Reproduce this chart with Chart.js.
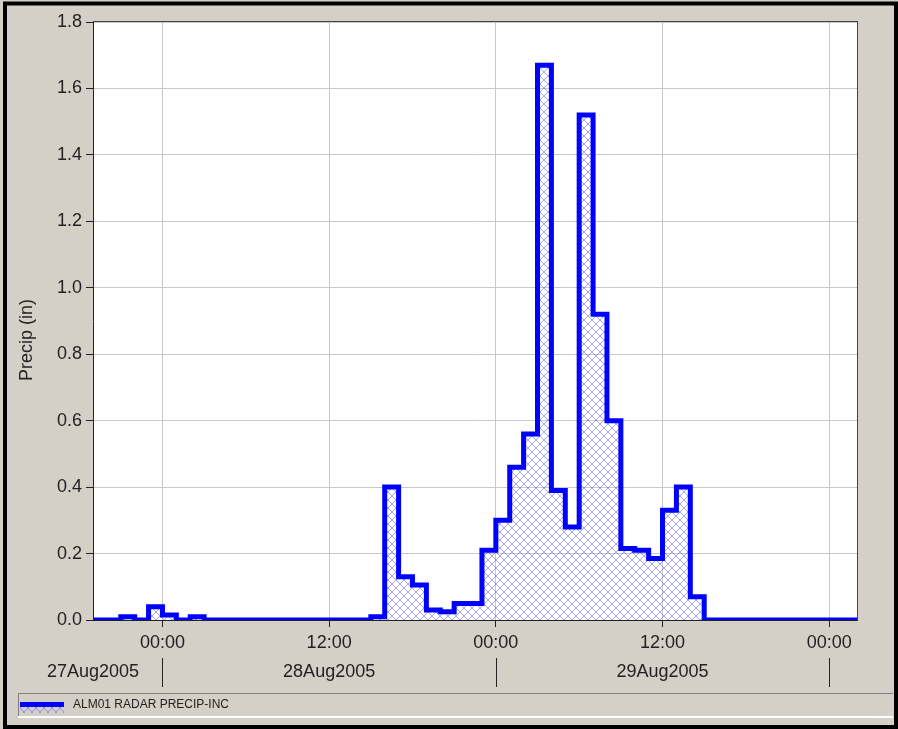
<!DOCTYPE html>
<html lang="en">
<head>
<meta charset="UTF-8">
<title>ALM01 Radar Precip</title>
<script src="https://cdn.jsdelivr.net/npm/chart.js@4.4.0/dist/chart.umd.min.js"></script>
<style>
  html, body { margin: 0; padding: 0; background: #d4d0c8; }
  canvas { display: block; }
</style>
</head>
<body>
<canvas id="precipChart" width="898" height="729"></canvas>
<script>
// hour ending, counted from 28Aug2005 00:00 (each value covers the hour before it)
var hours = [-5, -4, -3, -2, -1, 0, 1, 2, 3, 4, 5, 6, 7, 8, 9, 10, 11, 12, 13, 14, 15,
             16, 17, 18, 19, 20, 21, 22, 23, 24, 25, 26, 27, 28, 29, 30, 31, 32, 33, 34, 35,
             36, 37, 38, 39, 40, 41, 42, 43, 44, 45, 46, 47, 48, 49, 50];
var precip = [0, 0, 0, 0.01, 0, 0.04, 0.015, 0, 0.01, 0, 0, 0, 0, 0, 0, 0, 0, 0, 0, 0, 0,
              0.01, 0.40, 0.13, 0.105, 0.03, 0.025, 0.05, 0.05, 0.21, 0.30, 0.46, 0.56, 1.67, 0.39, 0.28, 1.52,
              0.92, 0.60, 0.215, 0.21, 0.185, 0.33, 0.40, 0.07, 0, 0, 0, 0, 0, 0, 0, 0, 0, 0, 0];

var hourTicks = [0, 12, 24, 36, 48];
var hourLabels = ['00:00', '12:00', '00:00', '12:00', '00:00'];
var dayLabels = ['27Aug2005', '28Aug2005', '29Aug2005'];
var dayLabelAt = [-5, 12, 36];
var dayBreaks = [0, 24, 48];
var seriesName = 'ALM01 RADAR PRECIP-INC';

var FONT = 'Liberation Sans';
var TEXT = '#222';

var canvas = document.getElementById('precipChart');
var ctx = canvas.getContext('2d');

// cross hatch fill like the original
function makeHatch() {
  var c = document.createElement('canvas');
  c.width = 8; c.height = 8;
  var g = c.getContext('2d');
  g.strokeStyle = 'rgba(80,80,255,0.5)';
  g.lineWidth = 1;
  g.beginPath();
  g.moveTo(0, 0); g.lineTo(8, 8);
  g.moveTo(8, 0); g.lineTo(0, 8);
  g.stroke();
  return ctx.createPattern(c, 'repeat');
}
var hatch = makeHatch();

var framePlugin = {
  id: 'frame',
  beforeDraw: function (chart) {
    var c = chart.ctx, a = chart.chartArea;
    c.save();
    c.fillStyle = '#d4d0c8';
    c.fillRect(0, 0, chart.width, chart.height);
    c.fillStyle = '#ffffff';
    c.fillRect(a.left, a.top, a.right - a.left, a.bottom - a.top);
    c.restore();
  },
  afterDraw: function (chart) {
    var c = chart.ctx, a = chart.chartArea, xs = chart.scales.x;
    c.save();
    // top and right edges of the plot
    c.fillStyle = '#444';
    c.fillRect(a.left, a.top - 1, a.right - a.left + 1, 1);
    c.fillRect(a.right, a.top - 1, 1, a.bottom - a.top + 1);

    // second row: dates and day separators
    c.fillStyle = TEXT;
    dayBreaks.forEach(function (d) {
      c.fillRect(Math.round(xs.getPixelForValue(d)), 658, 1, 29);
    });
    c.font = '18px "' + FONT + '"';
    c.textAlign = 'center';
    c.textBaseline = 'middle';
    dayLabels.forEach(function (t, i) {
      c.fillText(t, xs.getPixelForValue(dayLabelAt[i]), 672);
    });

    // y axis title
    c.save();
    c.translate(27, 340);
    c.rotate(-Math.PI / 2);
    c.fillText('Precip (in)', 0, 0);
    c.restore();

    // legend box
    c.fillStyle = '#808080';
    c.fillRect(18, 693, 875, 1);
    c.fillRect(18, 693, 1, 24);
    c.fillStyle = '#ffffff';
    c.fillRect(18, 716, 875, 2);
    c.fillStyle = '#0000ff';
    c.fillRect(20, 702, 44, 5);
    c.fillStyle = hatch;
    c.fillRect(20, 707, 44, 6);
    c.fillStyle = TEXT;
    c.font = '12px "' + FONT + '"';
    c.textAlign = 'left';
    c.fillText(seriesName, 73, 705);

    // black outer frame
    c.strokeStyle = '#000';
    c.lineWidth = 4;
    c.strokeRect(5, 3.5, 891, 723.5);
    c.restore();
  }
};

var chart = new Chart(ctx, {
  type: 'line',
  data: {
    datasets: [{
      label: seriesName,
      data: hours.map(function (h, i) { return { x: h, y: precip[i] }; }),
      stepped: 'after',
      borderColor: '#0000ff',
      borderWidth: 5,
      borderJoinStyle: 'miter',
      backgroundColor: hatch,
      fill: 'origin',
      pointRadius: 0,
      clip: { left: 0, right: 0, top: false, bottom: 0 }
    }]
  },
  options: {
    responsive: false,
    animation: false,
    layout: { padding: { left: 0, top: 22, right: 41, bottom: 69 } },
    plugins: {
      legend: { display: false },
      tooltip: { enabled: false }
    },
    scales: {
      x: {
        type: 'linear',
        min: -5,
        max: 50,
        afterBuildTicks: function (s) {
          s.ticks = hourTicks.map(function (v) { return { value: v }; });
        },
        afterFit: function (s) { s.height = 40; },
        ticks: {
          autoSkip: false,
          maxRotation: 0,
          padding: 5,
          color: TEXT,
          font: { family: FONT, size: 18 },
          callback: function (v) { return hourLabels[hourTicks.indexOf(v)]; }
        },
        grid: { color: '#c8c8c8', tickColor: TEXT, tickLength: 7 },
        border: { color: TEXT, width: 1 }
      },
      y: {
        min: 0,
        max: 1.8,
        afterFit: function (s) { s.width = 93; },
        ticks: {
          stepSize: 0.2,
          padding: 4,
          color: TEXT,
          font: { family: FONT, size: 18 },
          callback: function (v) { return v.toFixed(1); }
        },
        grid: { color: '#c8c8c8', tickColor: TEXT, tickLength: 7 },
        border: { color: TEXT, width: 1 }
      }
    }
  },
  plugins: [framePlugin]
});
</script>
</body>
</html>
